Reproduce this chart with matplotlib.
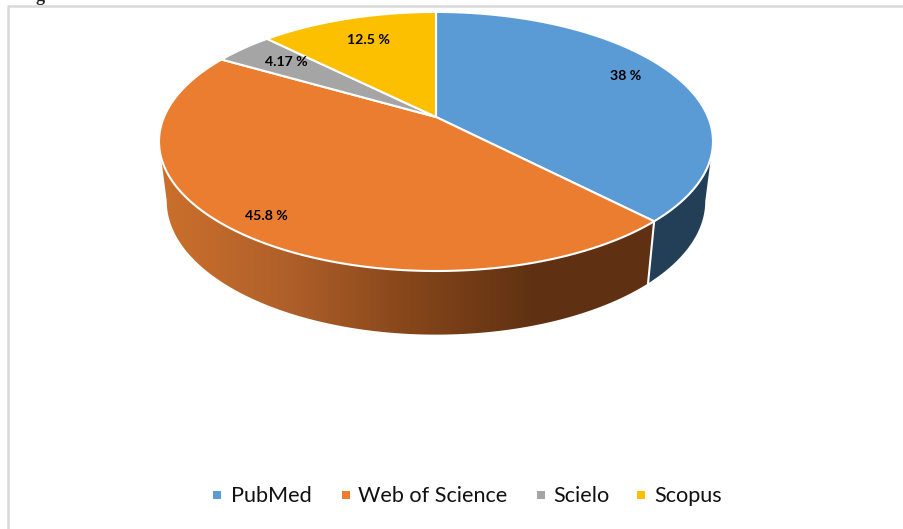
import numpy as np
import matplotlib
matplotlib.use('Agg')
import matplotlib.pyplot as plt
from matplotlib.colors import LinearSegmentedColormap
from matplotlib.patches import Polygon, Rectangle

categories = ['PubMed', 'Web of Science', 'Scielo', 'Scopus']
values = [38, 45.8, 4.17, 12.5]
value_labels = ['38 %', '45.8 %', '4.17 %', '12.5 %']
colors = ['#5b9bd5', '#eb7d31', '#a5a5a5', '#fdc000']

# pie geometry in image pixels
CX, CY = 436, 117
R = 272
H = 124.9
K = 0.189
DROP = 59
SHRINK_X = 0.972
SHRINK_Y = 1.03


def top_xy(theta):
    # theta in radians, clockwise from 12 o'clock, with a bit of perspective
    u, v = np.sin(theta), np.cos(theta)
    w = 1 + K * v
    return CX + R * u / w, CY - H * v / w


def low_xy(theta):
    x, y = top_xy(theta)
    return CX + SHRINK_X * (x - CX), CY + DROP + SHRINK_Y * (y - CY)


def arc(f, a, b):
    t = np.linspace(a, b, 200)
    x, y = f(t)
    return np.column_stack([x, y])


plt.rcParams['font.family'] = ['Lato', 'DejaVu Sans']
fig = plt.figure(figsize=(9.04, 5.29), dpi=100)
ax = fig.add_axes([0, 0, 1, 1])

fractions = np.array(values) / sum(values)
edges = np.concatenate([[0], np.cumsum(fractions)]) * 2 * np.pi

# the wall starts where the top ellipse is widest
right_side = np.arccos(-K)
left_side = 2 * np.pi - right_side

# side wall, blue part
blue_wall = np.vstack([arc(top_xy, right_side, edges[1]), arc(low_xy, edges[1], right_side)])
ax.add_patch(Polygon(blue_wall, closed=True, fc='#223f57', ec='none', zorder=1))

# side wall, orange part with gradient
orange_wall = np.vstack([arc(top_xy, edges[1], left_side), arc(low_xy, left_side, edges[1])])
cmap = LinearSegmentedColormap.from_list('wall', ['#cb702c', '#b0602a', '#86461a', '#5f3112', '#5f3112'])
grad = np.linspace(0, 1, 256).reshape(1, -1)
im = ax.imshow(grad, cmap=cmap, extent=[160, 660, 340, 130], aspect='auto', zorder=1)
clip = Polygon(orange_wall, closed=True, fc='none', ec='none', transform=ax.transData)
ax.add_patch(clip)
im.set_clip_path(clip)

# white divider on the wall
x0, y0 = top_xy(edges[1])
x1, y1 = low_xy(edges[1])
ax.plot([x0, x1], [y0, y1], color='white', lw=1.5, zorder=2)

# top faces
for i, c in enumerate(colors):
    pts = np.vstack([[CX, CY], arc(top_xy, edges[i], edges[i + 1])])
    ax.add_patch(Polygon(pts, closed=True, fc=c, ec='white', lw=1.5, joinstyle='round', zorder=3))

# data labels
label_x = [626, 266, 286, 368]
label_y = [76.5, 216.5, 62.5, 40.5]
for x, y, s in zip(label_x, label_y, value_labels):
    ax.text(x, y, s, ha='center', va='center', fontsize=10.2, fontweight='bold', color='black', zorder=4)

# legend
marker_x = [217, 346, 541, 641]
text_x = [231, 358, 553, 654]
for mx, tx, c, name in zip(marker_x, text_x, colors, categories):
    ax.add_patch(Rectangle((mx - 4, 491), 8, 8, fc=c, ec='none'))
    ax.text(tx, 496, name, ha='left', va='center', fontsize=15.6, color='#111111')

# chart frame, runs off the crop on the right and bottom
ax.plot([960, 8, 8], [6, 6, 560], color='#d9d9d9', lw=1.8, zorder=0)

# tail of the caption cut off by the crop
ax.text(40, 1, 'g', family=['Liberation Serif'], fontweight='bold', fontsize=13, ha='center', va='baseline', color='#222222')

ax.set_xlim(0, 904)
ax.set_ylim(529, 0)
ax.axis('off')
fig.savefig('out.png', dpi=100)
